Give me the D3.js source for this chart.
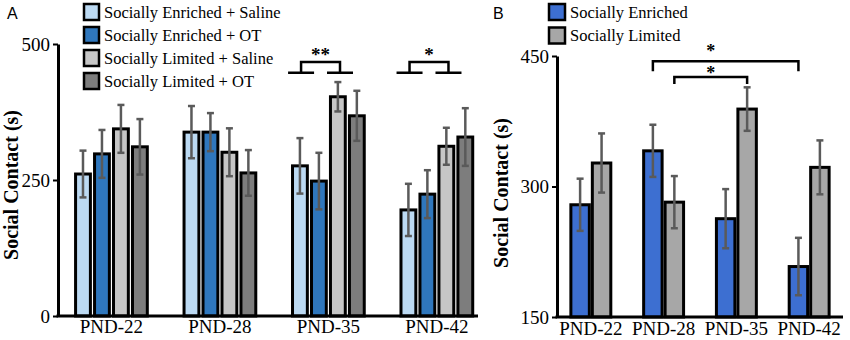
<!DOCTYPE html>
<html>
<head>
<meta charset="utf-8">
<script src="https://cdn.jsdelivr.net/npm/d3@7"></script>
<style>
  body { margin: 0; background: #fff; }
</style>
</head>
<body>
<svg id="chart" width="850" height="340"></svg>
<script>
// ---- panel A data ----
const groupsA = ['PND-22', 'PND-28', 'PND-35', 'PND-42'];
const seriesA = ['Socially Enriched + Saline', 'Socially Enriched + OT', 'Socially Limited + Saline', 'Socially Limited + OT'];
const enrichedSaline = [261, 338, 276, 195];
const enrichedOT     = [298, 338, 248, 224];
const limitedSaline  = [344, 301, 403, 312];
const limitedOT      = [311, 263, 368, 329];
const enrichedSalineErr = [43, 48, 51, 48];
const enrichedOTErr     = [44, 35, 52, 44];
const limitedSalineErr  = [44, 44, 27, 34];
const limitedOTErr      = [51, 42, 46, 53];
const ticksA = [0, 250, 500];
const sigA = [{group: 'PND-35', label: '**'}, {group: 'PND-42', label: '*'}];

// ---- panel B data ----
const groupsB = ['PND-22', 'PND-28', 'PND-35', 'PND-42'];
const seriesB = ['Socially Enriched', 'Socially Limited'];
const enriched = [279, 341, 263, 208];
const limited  = [327, 282, 389, 322];
const enrichedErr = [30, 30, 34, 33];
const limitedErr  = [34, 30, 25, 31];
const ticksB = [150, 300, 450];
const sigB = [
  {from: ['PND-28', 'Socially Enriched'], to: ['PND-42', 'Socially Enriched'], level: 444, label: '*'},
  {from: ['PND-28', 'Socially Limited'],  to: ['PND-35', 'Socially Limited'],  level: 426, label: '*'}
];

const colorsA = ['#bcdaf3', '#2f77bd', '#c6c6c6', '#7d7d7d'];
const colorsB = ['#3d6fd1', '#a7a7a7'];

const SERIF = '"Liberation Serif", "Times New Roman", Times, serif';
const SANS = '"Liberation Sans", Arial, sans-serif';

const svg = d3.select('#chart');

const tableA = groupsA.map((g, i) => ({
  group: g,
  values: [
    {key: seriesA[0], v: enrichedSaline[i], e: enrichedSalineErr[i]},
    {key: seriesA[1], v: enrichedOT[i], e: enrichedOTErr[i]},
    {key: seriesA[2], v: limitedSaline[i], e: limitedSalineErr[i]},
    {key: seriesA[3], v: limitedOT[i], e: limitedOTErr[i]}
  ]
}));

const tableB = groupsB.map((g, i) => ({
  group: g,
  values: [
    {key: seriesB[0], v: enriched[i], e: enrichedErr[i]},
    {key: seriesB[1], v: limited[i], e: limitedErr[i]}
  ]
}));

function drawPanel(cfg) {
  const g = svg.append('g');
  const x0 = d3.scaleBand().domain(cfg.groups).range(cfg.xRange)
    .paddingInner(cfg.padIn).paddingOuter(cfg.padOut).align(cfg.align);
  const x1 = d3.scaleBand().domain(cfg.series).range([0, x0.bandwidth()]).padding(cfg.barPad);
  const y = d3.scaleLinear().domain(cfg.yDomain).range(cfg.yRange);
  const color = d3.scaleOrdinal().domain(cfg.series).range(cfg.colors);

  // bars
  const grp = g.selectAll('g.grp').data(cfg.table).join('g')
    .attr('class', 'grp')
    .attr('transform', d => `translate(${x0(d.group)},0)`);
  grp.selectAll('rect').data(d => d.values).join('rect')
    .attr('x', d => x1(d.key) + 1.5)
    .attr('width', x1.bandwidth() - 3)
    .attr('y', d => y(d.v))
    .attr('height', d => y(cfg.yDomain[0]) - y(d.v))
    .attr('fill', d => color(d.key))
    .attr('stroke', '#000')
    .attr('stroke-width', 3);

  // error bars
  const eb = grp.selectAll('g.err').data(d => d.values).join('g').attr('class', 'err')
    .attr('stroke', '#5a5a5a').attr('stroke-width', 2.5);
  eb.append('line')
    .attr('x1', d => x1(d.key) + x1.bandwidth() / 2)
    .attr('x2', d => x1(d.key) + x1.bandwidth() / 2)
    .attr('y1', d => y(d.v + d.e)).attr('y2', d => y(d.v - d.e));
  [1, -1].forEach(s => {
    eb.append('line')
      .attr('x1', d => x1(d.key) + x1.bandwidth() / 2 - 3.5)
      .attr('x2', d => x1(d.key) + x1.bandwidth() / 2 + 3.5)
      .attr('y1', d => y(d.v + s * d.e)).attr('y2', d => y(d.v + s * d.e));
  });

  // axes
  const ay = g.append('g').attr('transform', `translate(${cfg.xRange[0]},0)`)
    .call(d3.axisLeft(y).tickValues(cfg.ticks).tickSize(5).tickSizeOuter(0).tickPadding(3).tickFormat(d3.format('d')));
  ay.select('.domain').attr('stroke-width', 3);
  ay.selectAll('.tick line').attr('stroke-width', 2);
  ay.selectAll('text').style('font-size', '19px').style('font-family', SERIF).attr('fill', '#000');

  const ax = g.append('g').attr('transform', `translate(0,${cfg.yRange[0]})`)
    .call(d3.axisBottom(x0).tickSize(0).tickPadding(cfg.xPad));
  ax.select('.domain').attr('stroke-width', 3).attr('d', `M${cfg.xRange[0] - 1.5},0H${cfg.xRange[1]}`);
  ax.selectAll('text').style('font-size', '19px').style('font-family', SERIF).attr('fill', '#000');

  // y label
  g.append('text')
    .attr('transform', `translate(${cfg.labelPos[0]},${cfg.labelPos[1]}) rotate(-90)`)
    .attr('text-anchor', 'middle').attr('dominant-baseline', 'central')
    .style('font-family', SERIF).style('font-weight', 'bold').style('font-size', '20px')
    .text('Social Contact (s)');

  // legend
  const lg = g.selectAll('g.leg').data(cfg.series).join('g').attr('class', 'leg')
    .attr('transform', (d, i) => `translate(${cfg.legend[0]},${cfg.legend[1] + i * cfg.legend[2]})`);
  lg.append('rect').attr('x', 0).attr('y', -8).attr('width', cfg.legend[3]).attr('height', 16)
    .attr('fill', d => color(d)).attr('stroke', '#000').attr('stroke-width', 2.5);
  lg.append('text').attr('x', cfg.legend[3] + 5).attr('y', 0).attr('dy', '0.35em')
    .style('font-family', SERIF).style('font-size', '16.5px').text(d => d);

  // panel tag
  g.append('text').attr('x', cfg.tag[0]).attr('y', cfg.tag[1])
    .style('font-family', SANS).style('font-size', '16px').text(cfg.tagText);

  return {g, x0, x1, y};
}

const A = drawPanel({
  groups: groupsA, series: seriesA, table: tableA, colors: colorsA,
  xRange: [58, 478], padIn: 0.29, padOut: 0.081, align: 0.85, barPad: 0.06,
  yDomain: [0, 500], yRange: [316, 44], ticks: ticksA, xPad: 4,
  labelPos: [11, 185], legend: [84, 12, 23, 15], tag: [7, 19], tagText: 'A'
});

const B = drawPanel({
  groups: groupsB, series: seriesB, table: tableB, colors: colorsB,
  xRange: [557, 843], padIn: 0.41, padOut: 0.17, align: 0.5, barPad: 0,
  yDomain: [150, 450], yRange: [317, 56], ticks: ticksB, xPad: 5,
  labelPos: [501, 193], legend: [549, 12, 23.5, 16], tag: [493, 19], tagText: 'B'
});

// significance brackets, panel A: pair (bars 1-2) vs pair (bars 3-4)
const feetA = 447, topA = 467;
sigA.forEach(s => {
  const gx = A.x0(s.group), bw = A.x1.bandwidth();
  const lc = gx + A.x1(seriesA[1]) - bw / 2;
  const rc = gx + A.x1(seriesA[3]) - bw / 2 + 1;
  const yf = A.y(feetA), yt = A.y(topA);
  A.g.append('path')
    .attr('d', `M${lc - 13},${yf}H${lc + 13}M${lc},${yf}V${yt}H${rc}V${yf}M${rc - 13},${yf}H${rc + 13}`)
    .attr('fill', 'none').attr('stroke', '#000').attr('stroke-width', 2.5);
  A.g.append('text').attr('x', (lc + rc) / 2).attr('y', yt - 1)
    .attr('text-anchor', 'middle')
    .style('font-family', SERIF).style('font-size', '19px').style('font-weight', 'bold').text(s.label);
});

// significance brackets, panel B
const dropB = [10, 7], starGapB = [4, -2];
const cx = ([grp, ser]) => B.x0(grp) + B.x1(ser) + B.x1.bandwidth() / 2;
const starX = (cx(sigB[1].from) + cx(sigB[1].to)) / 2;
sigB.forEach((s, i) => {
  const a = cx(s.from), b = cx(s.to), yt = B.y(s.level);
  B.g.append('path')
    .attr('d', `M${a},${yt + dropB[i]}V${yt}H${b}V${yt + dropB[i]}`)
    .attr('fill', 'none').attr('stroke', '#000').attr('stroke-width', 2.5);
  B.g.append('text').attr('x', starX).attr('y', yt - starGapB[i])
    .attr('text-anchor', 'middle')
    .style('font-family', SERIF).style('font-size', '18px').style('font-weight', 'bold').text(s.label);
});
</script>
</body>
</html>
